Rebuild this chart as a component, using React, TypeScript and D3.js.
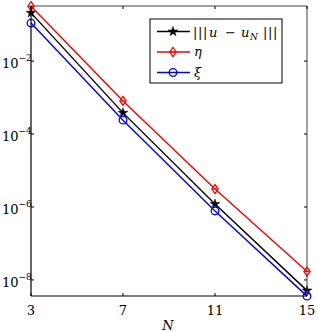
import React from "react";
import * as d3 from "d3";

const Ns = [3, 7, 11, 15];
const errNorm = [0.21, 3.8e-4, 1.2e-6, 5.1e-9];
const eta = [0.32, 8.1e-4, 3.1e-6, 1.7e-8];
const xi = [0.11, 2.4e-4, 7.8e-7, 3.6e-9];
const yTickExps = [-2, -4, -6, -8];
const xTicks = [3, 7, 11, 15];

const W = 318, H = 332;
const L = 31, R = 307, T = 6, B = 296;

export default function App() {
  const x = d3.scaleLinear().domain([3, 15]).range([L, R]);
  const y = d3.scaleLog().domain([Math.pow(10, -8.44), Math.pow(10, -0.49)]).range([B, T]);
  const line = d3.line<number>().x((_, i) => x(Ns[i])).y((d) => y(d));
  const font = "DejaVu Serif";
  const fs = { fontFamily: font };

  const star = d3.symbol().type(d3.symbolStar).size(30)();
  const diamond = (cx: number, cy: number, s = 4.5) =>
    `M${cx},${cy - s}L${cx + s * 0.7},${cy}L${cx},${cy + s}L${cx - s * 0.7},${cy}Z`;

  const series = [
    { data: errNorm, color: "#000", marker: "star" },
    { data: eta, color: "#f00", marker: "diamond" },
    { data: xi, color: "#00f", marker: "circle" },
  ];

  const marker = (m: string, color: string, cx: number, cy: number, k: string) => {
    if (m === "star")
      return <path key={k} d={star!} transform={`translate(${cx},${cy})`} fill={color} stroke={color} strokeWidth={0.5} />;
    if (m === "diamond")
      return (
        <g key={k}>
          <path d={diamond(cx, cy)} fill="none" stroke={color} strokeWidth={1.3} />
          <line x1={cx - 2.5} x2={cx + 2.5} y1={cy} y2={cy} stroke={color} strokeWidth={1} />
        </g>
      );
    return <circle key={k} cx={cx} cy={cy} r={3.8} fill="none" stroke={color} strokeWidth={1.3} />;
  };

  const legendRows = [
    { y: 31.5, color: "#000", marker: "star", label: "star" },
    { y: 52, color: "#f00", marker: "diamond", label: "eta" },
    { y: 72.5, color: "#00f", marker: "circle", label: "xi" },
  ];

  const bar = (bx: number, k: string) => (
    <text key={k} x={bx} y={36.5} style={fs} fontSize={13}>|</text>
  );

  return (
    <svg width={W} height={H} style={{ position: "absolute", left: 0, top: 0, background: "#fff" }}>
      <rect x={0} y={0} width={W} height={H} fill="#fff" />
      {series.map((s, si) => (
        <g key={si}>
          <path d={line(s.data)!} fill="none" stroke={s.color} strokeWidth={1.4} />
          {s.data.map((v, i) => marker(s.marker, s.color, x(Ns[i]), y(v), `${si}-${i}`))}
        </g>
      ))}
      {/* axes box */}
      <line x1={L} x2={L} y1={T} y2={B} stroke="#000" strokeWidth={1.2} />
      <line x1={L} x2={R} y1={B} y2={B} stroke="#000" strokeWidth={1.2} />
      <line x1={L} x2={R} y1={T} y2={T} stroke="#444" strokeWidth={1} />
      <line x1={R} x2={R} y1={T} y2={B} stroke="#444" strokeWidth={1} />
      {/* ticks */}
      {xTicks.map((t) => (
        <g key={"xt" + t}>
          <line x1={x(t)} x2={x(t)} y1={B} y2={B - 3} stroke="#000" />
          <line x1={x(t)} x2={x(t)} y1={T} y2={T + 3} stroke="#000" />
          <text x={x(t)} y={315} textAnchor="middle" style={fs} fontSize={13}>
            {t}
          </text>
        </g>
      ))}
      {yTickExps.map((e) => {
        const yy = y(Math.pow(10, e));
        return (
          <g key={"yt" + e}>
            <line x1={L} x2={L + 3} y1={yy} y2={yy} stroke="#000" />
            <line x1={R} x2={R - 3} y1={yy} y2={yy} stroke="#000" />
            <text x={2} y={yy + 7} style={fs} fontSize={13}>
              10
              <tspan dy={-7} fontSize={9}>
                {"\u2212" + Math.abs(e)}
              </tspan>
            </text>
          </g>
        );
      })}
      <text x={168} y={330} textAnchor="middle" style={fs} fontSize={13} fontStyle="italic">
        N
      </text>
      {/* legend */}
      <rect x={150} y={19} width={132} height={64} fill="#fff" stroke="#000" strokeWidth={1} />
      {legendRows.map((r) => (
        <g key={r.label}>
          <line x1={157} x2={190} y1={r.y} y2={r.y} stroke={r.color} strokeWidth={1.4} />
          {marker(r.marker, r.color, 173, r.y, "lg" + r.label)}
        </g>
      ))}
      {[193, 198, 203, 263, 268, 273].map((bx, i) => bar(bx, "b" + i))}
      <text x={209} y={36.5} style={fs} fontSize={13} fontStyle="italic">u</text>
      <text x={225} y={36.5} style={fs} fontSize={13}>{"\u2212"}</text>
      <text x={241} y={36.5} style={fs} fontSize={13} fontStyle="italic">u</text>
      <text x={250} y={39.5} style={fs} fontSize={9} fontStyle="italic">N</text>
      <text x={194} y={56} style={fs} fontSize={13} fontStyle="italic">
        η
      </text>
      <text x={194} y={76.5} style={fs} fontSize={13} fontStyle="italic">
        ξ
      </text>
    </svg>
  );
}
